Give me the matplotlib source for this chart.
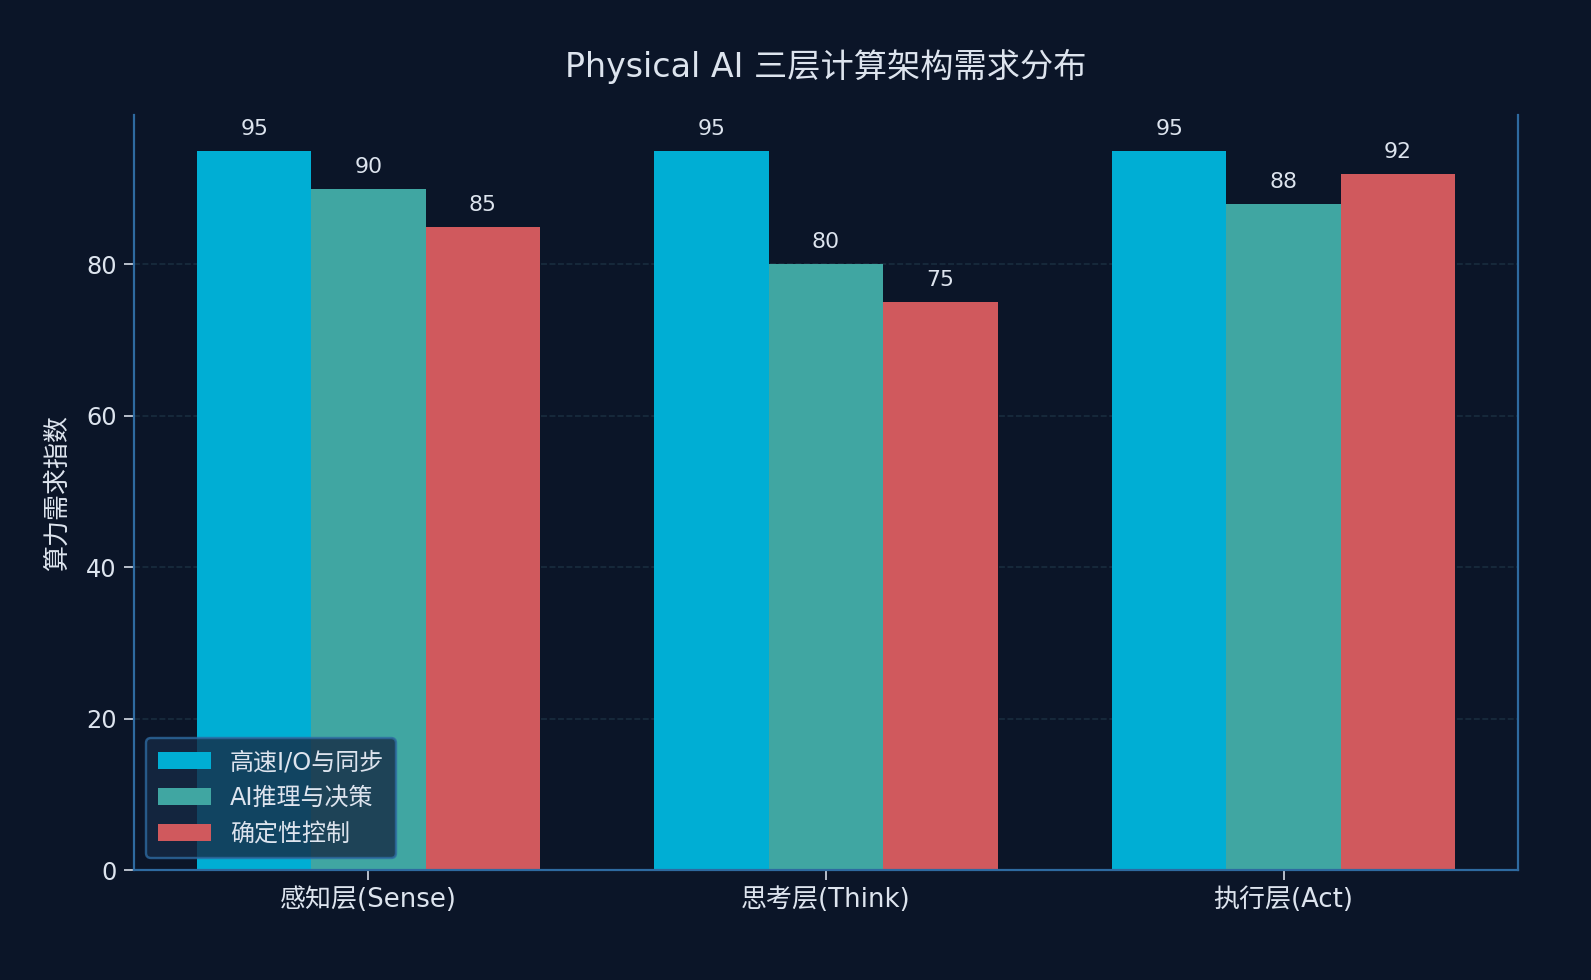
import matplotlib.pyplot as plt
import numpy as np

plt.rcParams['font.family'] = ['DejaVu Sans', 'Noto Sans CJK SC']

# ------------------------------
# Data
# ------------------------------
layers = ["感知层(Sense)", "思考层(Think)", "执行层(Act)"]
series_names = ["高速I/O与同步", "AI推理与决策", "确定性控制"]
io_sync = [95, 95, 95]
ai_infer = [90, 80, 88]
det_ctrl = [85, 75, 92]

bg = "#0b1528"
spine_c = "#2e6aa0"
text_c = "#dde4ee"
colors = ["#00aed4", "#40a6a2", "#d0595d"]

fig = plt.figure(figsize=(11.05, 6.806), dpi=144, facecolor=bg)
ax = fig.add_axes([0.0842, 0.1122, 0.8698, 0.7705])
ax.set_facecolor(bg)

x = np.arange(len(layers))
w = 0.25
for i, (vals, name) in enumerate(zip([io_sync, ai_infer, det_ctrl], series_names)):
    bars = ax.bar(x + (i - 1) * w, vals, w, color=colors[i], label=name, zorder=2)
    for b, v in zip(bars, vals):
        ax.text(b.get_x() + b.get_width() / 2, v + 1.6, str(v),
                ha="center", va="bottom", color=text_c, fontsize=11)

ax.set_ylim(0, max(io_sync) * 1.05)
ax.set_xticks(x)
ax.set_xticklabels(layers, fontsize=13, color=text_c)
ax.tick_params(axis="y", labelsize=12, colors=text_c, length=5)
ax.tick_params(axis="x", colors=text_c, length=5)
ax.set_ylabel("算力需求指数", fontsize=13, color=text_c, labelpad=8)
ax.set_title("Physical AI 三层计算架构需求分布", fontsize=16.6, color=text_c, pad=19)

ax.yaxis.grid(True, linestyle="--", color="#2a4a5a", alpha=0.45, linewidth=0.8, zorder=3)
for s in ["left", "bottom", "right"]:
    ax.spines[s].set_color(spine_c)
    ax.spines[s].set_linewidth(1.1)
ax.spines["top"].set_visible(False)

leg = ax.legend(loc="lower left", fontsize=12, facecolor="#162a44", edgecolor=spine_c,
                framealpha=0.8, labelcolor=text_c, borderpad=0.5, handlelength=2.2)
leg.get_frame().set_linewidth(1.2)

plt.savefig("out.png", dpi=144, facecolor=bg)
